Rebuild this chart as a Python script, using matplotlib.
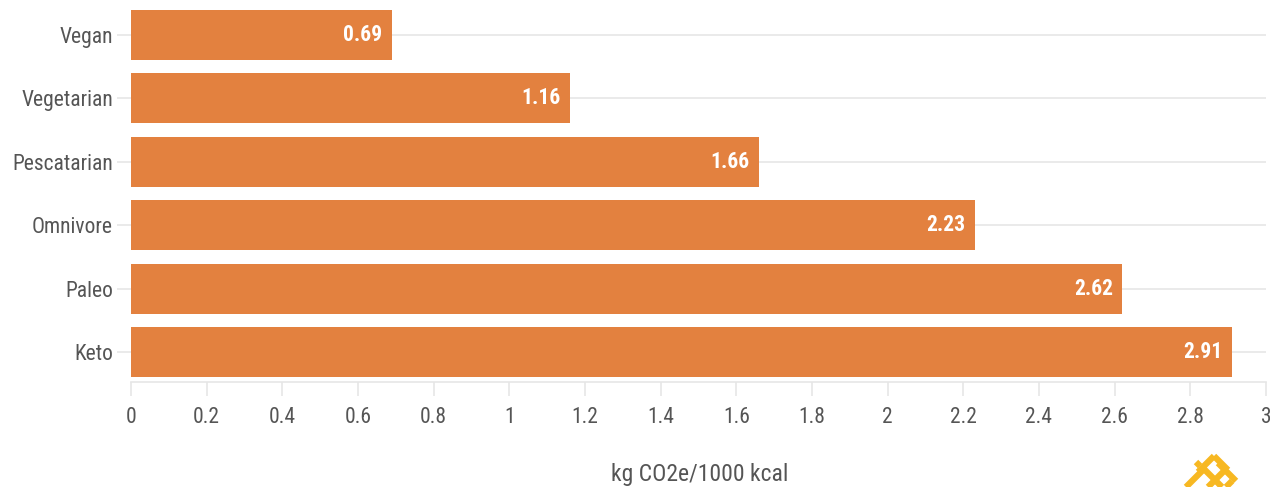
import matplotlib
matplotlib.use("Agg")
import matplotlib.pyplot as plt
from matplotlib import font_manager as fm
from matplotlib.lines import Line2D

categories = ["Vegan", "Vegetarian", "Pescatarian", "Omnivore", "Paleo", "Keto"]
values = [0.69, 1.16, 1.66, 2.23, 2.62, 2.91]
xticks = [0, 0.2, 0.4, 0.6, 0.8, 1, 1.2, 1.4, 1.6, 1.8, 2, 2.2, 2.4, 2.6, 2.8, 3]
xtick_labels = ["0", "0.2", "0.4", "0.6", "0.8", "1", "1.2", "1.4", "1.6", "1.8", "2", "2.2", "2.4", "2.6", "2.8", "3"]
xlabel = "kg CO2e/1000 kcal"

fonts = fm.fontManager.ttflist
names = {f.name for f in fonts}
stretch = "normal"
if "Roboto Condensed" in names:
    fam = "Roboto Condensed"
elif "Liberation Sans Narrow" in names:
    fam = "Liberation Sans Narrow"
elif any(f.name == "Roboto" and f.stretch == "condensed" for f in fonts):
    fam, stretch = "Roboto", "condensed"
elif any(f.name == "DejaVu Sans" and f.stretch == "condensed" for f in fonts):
    fam, stretch = "DejaVu Sans", "condensed"
else:
    fam = "Roboto"
plt.rcParams["font.family"] = [fam, "DejaVu Sans"]
plt.rcParams["font.stretch"] = stretch

BAR = "#E3813F"
GRID = "#E6E6E6"
TXT = "#555555"
GOLD = "#F7B822"

W, H = 1270, 487
fig = plt.figure(figsize=(12.7, 4.87), dpi=100)
ax = fig.add_axes([131/W, 1 - 382/H, 1135/W, 377/H])

ypos = list(range(len(categories)))
ax.barh(ypos, values, height=0.79, color=BAR, zorder=2)
for y, v in zip(ypos, values):
    ax.text(v - 0.025, y, f"{v:.2f}", ha="right", va="center", color="white",
            fontsize=15.5, fontweight="bold", zorder=3)

pad = 0.473
ax.set_ylim(len(categories) - 1 + pad, -pad)
ax.set_xlim(0, 3)
ax.set_yticks(ypos)
ax.set_yticklabels(categories, fontsize=15.5, color=TXT)
ax.set_xticks(xticks)
ax.set_xticklabels(xtick_labels, fontsize=15.5, color=TXT)
ax.tick_params(axis="y", length=10, color=GRID, width=1.2, pad=3)
ax.tick_params(axis="x", length=10, color=GRID, width=1.2, pad=8)
ax.grid(axis="y", color=GRID, linewidth=1.2, zorder=0)
ax.grid(axis="x", visible=False)
for s in ["top", "right", "left"]:
    ax.spines[s].set_visible(False)
ax.spines["bottom"].set_color(GRID)
ax.spines["bottom"].set_linewidth(1.2)

fig.text(700/W, 1 - 474/H, xlabel, ha="center", va="center", fontsize=17, color=TXT)

# decorative logo (partially cut off at bottom-right)
segs = [
    ((1198, 472), (1214, 456)),
    ((1214, 456), (1228, 470)),
    ((1186, 487), (1204, 469)),
    ((1204, 469), (1222, 487)),
    ((1208, 487), (1226, 469)),
    ((1218, 463), (1236, 481)),
    ((1196, 462), (1200, 466)),
    ((1226, 487), (1232, 481)),
]
for (x0, y0), (x1, y1) in segs:
    fig.add_artist(Line2D([x0/W, x1/W], [1 - y0/H, 1 - y1/H], color=GOLD,
                          linewidth=4.5, solid_capstyle="butt", transform=fig.transFigure))

fig.savefig("out.png", dpi=100)
